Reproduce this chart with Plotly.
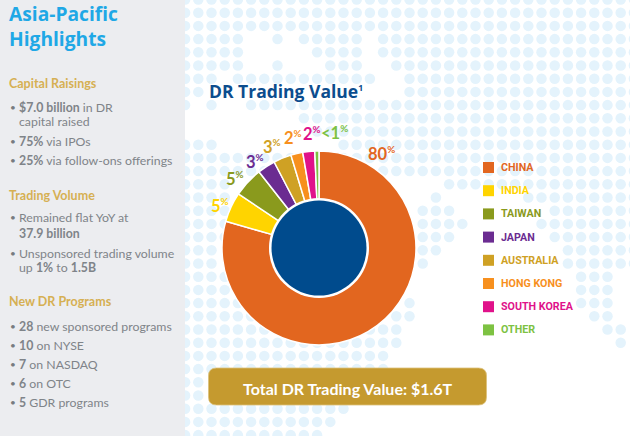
import plotly.graph_objects as go

# ---- chart data ----
categories = ["China", "India", "Taiwan", "Japan", "Australia", "Hong Kong", "South Korea", "Other"]
shares = [80, 5, 5, 3, 3, 2, 2, 0.7]
share_labels = ["80", "5", "5", "3", "3", "2", "2", "<1"]
colors = ["#e2661f", "#ffd400", "#8a9a1d", "#6b2c91", "#cfa124", "#f7901e", "#e0128a", "#7dc242"]
chart_title = "DR Trading Value<sup><span style='font-size:70%'>1</span></sup>"
total_label = "Total DR Trading Value: $1.6T"

# ---- sidebar text: (kind, y centre, text) ----
sidebar = [
    ("head", 83, "Capital Raisings"),
    ("bullet", 107, "<b>$7.0 billion</b> in DR"),
    ("cont", 121, "capital raised"),
    ("bullet", 141, "<b>75%</b> via IPOs"),
    ("bullet", 160, "<b>25%</b> via follow-ons offerings"),
    ("head", 195, "Trading Volume"),
    ("bullet", 217, "Remained flat YoY at"),
    ("cont", 233, "<b>37.9 billion</b>"),
    ("bullet", 253, "Unsponsored trading volume"),
    ("cont", 267, "up <b>1%</b> to <b>1.5B</b>"),
    ("head", 301, "New DR Programs"),
    ("bullet", 326, "<b>28</b> new sponsored programs"),
    ("bullet", 345, "<b>10</b> on NYSE"),
    ("bullet", 364, "<b>7</b> on NASDAQ"),
    ("bullet", 383, "<b>6</b> on OTC"),
    ("bullet", 402, "<b>5</b> GDR programs"),
]

# ---- decorative dotted map: row index -> column spans ----
map_rows = {
    -1: [(-1, 33)], 0: [(-1, 33)], 1: [(-1, 33)],
    2: [(-1, 3), (6, 6), (8, 12), (14, 33)],
    3: [(-1, 3), (9, 12), (14, 33)],
    4: [(-1, 3), (6, 6), (10, 12), (15, 33)],
    5: [(-1, 1), (3, 13), (16, 33)],
    6: [(-1, 0), (16, 33)],
    7: [(-1, -1), (1, 1), (4, 33)],
    8: [(8, 33)],
    9: [(9, 33)],
    10: [(-1, 1), (11, 33)],
    11: [(-1, 33)],
    12: [(-1, 33)],
    13: [(-1, 2), (19, 33)],
    14: [(-1, 2), (18, 18), (25, 33)],
    15: [(-1, 2), (17, 19), (27, 33)],
    16: [(-1, 2), (17, 20), (26, 33)],
    17: [(-1, 2), (17, 19), (27, 33)],
    18: [(-1, 1), (17, 18), (28, 33)],
    19: [(-1, 1), (17, 17), (28, 33)],
    20: [(-1, 2), (29, 31)],
    21: [(-1, 2), (29, 31)],
    22: [(-1, 3), (16, 16), (29, 31)],
    23: [(-1, 5), (15, 16), (30, 31)],
    24: [(-1, 15), (31, 32)],
    25: [(-1, 15), (32, 32)],
    26: [(-1, 14)],
    27: [(-1, 14)],
    28: [(-1, 0)],
    29: [(-1, 0)],
    30: [(-1, 11)],
    31: [(-1, 10)],
    32: [(-1, 9)],
}

# ---- layout constants (pixels) ----
W, H = 630, 436
CX, CY, R = 319, 248, 97
FONT = "Lato, 'Open Sans', sans-serif"
HEAD_FONT = "'Open Sans', Lato, sans-serif"
LEGEND_FONT = "Roboto, Lato, sans-serif"
label_xy = [(381, 153), (220, 205), (235, 178), (255, 161), (272, 146), (293, 137), (312, 133), (334, 132)]

dot_x, dot_y = [], []
for row, spans in map_rows.items():
    for a, b in spans:
        for col in range(a, b + 1):
            dot_x.append(198.3 + 13.2 * col)
            dot_y.append(12.7 + 13.2 * row)

fig = go.Figure()
fig.add_trace(go.Scatter(x=dot_x, y=dot_y, mode="markers", hoverinfo="skip", showlegend=False,
                         marker=dict(size=10.5, color="#e4f3fc", line_width=0)))
fig.add_trace(go.Pie(
    labels=categories, values=shares, sort=False, direction="clockwise", rotation=0,
    hole=0.5, textinfo="none", hoverinfo="label+percent", showlegend=False,
    marker=dict(colors=colors, line=dict(color="white", width=1.5)),
    domain=dict(x=[(CX - R) / W, (CX + R) / W], y=[1 - (CY + R) / H, 1 - (CY - R) / H]),
))

def txt(x, y, text, size, color, anchor="left", bold=False, family=FONT):
    return dict(x=x, y=y, xref="x", yref="y", text=f"<b>{text}</b>" if bold else text,
                showarrow=False, xanchor=anchor, yanchor="middle", borderpad=0,
                font=dict(family=family, size=size, color=color), align=anchor)

ann = [
    txt(8, 25.5, "<b>Asia-Pacific</b><br><b>Highlights</b>", 19.2, "#1fa8e6", family=HEAD_FONT),
    txt(207.5, 91, chart_title, 17.5, "#0c4d8e", bold=True, family=HEAD_FONT),
    txt(347.5, 388, total_label, 16, "white", "center", bold=True),
]
for kind, y, t in sidebar:
    if kind == "head":
        ann.append(txt(8, y, t, 12.5, "#d6b053", bold=True))
    else:
        if kind == "bullet":
            ann.append(txt(9, y, "•", 10, "#777b80"))
        ann.append(txt(18, y, t, 12.3, "#7f8489"))

for (x, y), lab, col in zip(label_xy, share_labels, colors):
    ann.append(txt(x, y, f"{lab.replace('<', '&lt;')}<sup><span style='font-size:85%'>%</span></sup>",
                   16.5, col, "center", bold=True))

shapes = [
    dict(type="rect", x0=0, x1=185, y0=0, y1=H, fillcolor="#ecedf0", line_width=0, layer="above"),
    dict(type="circle", x0=CX - 50, x1=CX + 50, y0=CY - 50, y1=CY + 50, fillcolor="white", line_width=0, layer="above"),
    dict(type="circle", x0=CX - 47.5, x1=CX + 47.5, y0=CY - 47.5, y1=CY + 47.5, fillcolor="#004b8d", line_width=0, layer="above"),
]
bx0, bx1, by0, by1, r = 208.5, 486.5, 368, 405, 8
shapes.append(dict(
    type="path", fillcolor="#c59a2f", line=dict(color="#dcc07a", width=0.8), layer="above",
    path=(f"M {bx0+r} {by0} L {bx1-r} {by0} Q {bx1} {by0} {bx1} {by0+r} L {bx1} {by1-r} "
          f"Q {bx1} {by1} {bx1-r} {by1} L {bx0+r} {by1} Q {bx0} {by1} {bx0} {by1-r} "
          f"L {bx0} {by0+r} Q {bx0} {by0} {bx0+r} {by0} Z")))

for i, (cat, col) in enumerate(zip(categories, colors)):
    yc = 167.5 + 23.2 * i
    shapes.append(dict(type="rect", x0=483, x1=494, y0=yc - 5.5, y1=yc + 5.5, fillcolor=col, line_width=0, layer="above"))
    ann.append(txt(500, yc, cat.upper(), 10.7, col, bold=True, family=LEGEND_FONT))

fig.update_layout(
    width=W, height=H, margin=dict(l=0, r=0, t=0, b=0), autosize=False,
    paper_bgcolor="white", plot_bgcolor="white", showlegend=False,
    xaxis=dict(range=[0, W], visible=False, fixedrange=True),
    yaxis=dict(range=[H, 0], visible=False, fixedrange=True),
    shapes=shapes, annotations=ann,
)
fig.write_html("out.html", post_script="document.body.style.margin='0';",
               config=dict(displayModeBar=False))
